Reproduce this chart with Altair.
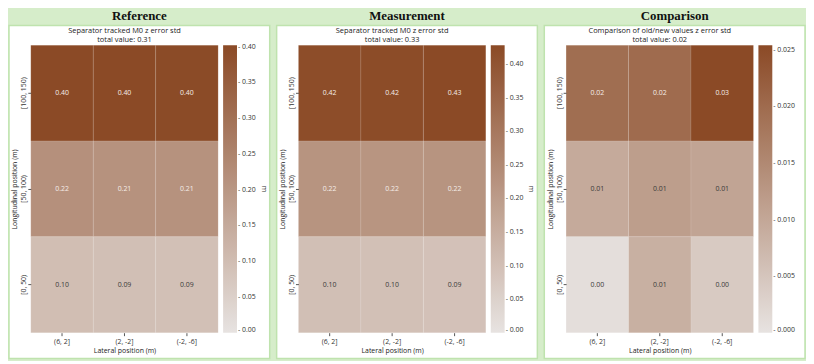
import altair as alt
import pandas as pd

# ---------------- data ----------------
lateral = ["(6, 2]", "(2, -2]", "(-2, -6]"]
longitudinal = ["[100, 150)", "[50, 100)", "[0, 50)"]

ref_values = [[0.402, 0.401, 0.400],
              [0.218, 0.212, 0.213],
              [0.098, 0.094, 0.092]]
meas_values = [[0.421, 0.423, 0.428],
               [0.221, 0.219, 0.222],
               [0.101, 0.098, 0.094]]
cmp_values = [[0.0195, 0.0200, 0.0254],
              [0.0095, 0.0115, 0.0105],
              [0.0008, 0.0085, 0.0042]]

headers = ["Reference", "Measurement", "Comparison"]
plot_titles = ["Separator tracked M0 z error std",
               "Separator tracked M0 z error  std",
               "Comparison of old/new values z error std"]
total_values = ["0.31", "0.33", "0.02"]
legend_titles = ["m", "m", None]
legend_ticks = [[0.0, 0.05, 0.10, 0.15, 0.20, 0.25, 0.30, 0.35, 0.40],
                [0.0, 0.05, 0.10, 0.15, 0.20, 0.25, 0.30, 0.35, 0.40],
                [0.0, 0.005, 0.010, 0.015, 0.020, 0.025]]
legend_formats = [".2f", ".2f", ".3f"]

# ---------------- style ----------------
GREEN = "#d6edca"
BORDER = "#bfe3ae"
LOW = "#e7e3e1"
HIGH = "#8b4a26"
FONT = "Open Sans"
W = 189
H = 290


def panel(values, header, title, total, legend_title, ticks, fmt):
    rows = []
    for i, lon in enumerate(longitudinal):
        for j, lat in enumerate(lateral):
            rows.append({"lat": lat, "lon": lon, "value": values[i][j]})
    df = pd.DataFrame(rows)
    vmax = max(max(r) for r in values)

    x_enc = alt.X("lat:N", sort=lateral,
                  axis=alt.Axis(title="Lateral position (m)", labelAngle=0,
                                labelFontSize=7, titleFontSize=7,
                                titleFontWeight="normal", tickSize=3,
                                labelPadding=2, titlePadding=2, domain=False,
                                tickColor="#555", labelColor="#333",
                                titleColor="#222", zindex=1, labelFont=FONT,
                                titleFont=FONT))
    y_enc = alt.Y("lon:N", sort=longitudinal,
                  axis=alt.Axis(title="Longitudinal position (m)",
                                labelAngle=270, labelFontSize=7,
                                titleFontSize=7, titleFontWeight="normal",
                                tickSize=3, labelPadding=1, titlePadding=2,
                                domain=False, tickColor="#555",
                                labelColor="#333", titleColor="#222",
                                zindex=1, labelFont=FONT, titleFont=FONT))

    legend_kwargs = dict(orient="right", direction="vertical",
                         gradientLength=H, gradientThickness=14, offset=5,
                         labelFontSize=7, labelColor="#333", labelOffset=1,
                         labelFont=FONT, values=ticks, format=fmt,
                         labelExpr="'- ' + datum.label", labelOverlap=False,
                         gradientStrokeWidth=0, titleOrient="right",
                         titleFontSize=7.5, titleFontWeight="normal",
                         titleColor="#333",
                         titlePadding=4, titleAnchor="middle", titleFont=FONT,
                         title=legend_title)

    color = alt.Color("value:Q",
                      scale=alt.Scale(domain=[0, vmax], range=[LOW, HIGH],
                                      interpolate="rgb"),
                      legend=alt.Legend(**legend_kwargs))

    bg = alt.Chart(alt.Data(values=[{}])).mark_rect(
        fill="white", stroke=BORDER, strokeWidth=1.5
    ).encode(x=alt.value(-22), x2=alt.value(W + 52),
             y=alt.value(-20), y2=alt.value(H + 26))

    heat = alt.Chart(df).mark_rect(
        stroke="white", strokeWidth=0.6, strokeOpacity=0.18
    ).encode(x=x_enc, y=y_enc, color=color)

    labels = alt.Chart(df).mark_text(fontSize=7, font=FONT).encode(
        x=x_enc, y=y_enc,
        text=alt.Text("value:Q", format=".2f"),
        color=alt.condition(f"datum.value > {vmax * 0.5}",
                            alt.value("#f5ede8"), alt.value("#3a3a3a")))

    sub = alt.Chart(alt.Data(values=[{}])).mark_text(
        fontSize=7.5, lineHeight=8.5, baseline="top", align="center",
        font=FONT, color="#222"
    ).encode(x=alt.value(W / 2), y=alt.value(-18),
             text=alt.value([title, f"total value: {total}"]))

    return alt.layer(bg, heat, labels, sub).properties(
        width=W, height=H,
        title=alt.TitleParams(header, font="Liberation Serif", fontSize=13,
                              fontWeight="bold", anchor="middle",
                              frame="bounds", offset=2, color="#111"))


panels = [panel(v, h, t, tv, lt, tk, f) for v, h, t, tv, lt, tk, f in zip(
    [ref_values, meas_values, cmp_values], headers, plot_titles,
    total_values, legend_titles, legend_ticks, legend_formats)]

chart = alt.hconcat(*panels, spacing=5).resolve_scale(
    color="independent", x="independent", y="independent"
).resolve_legend(color="independent").configure(
    background=GREEN, padding={"left": 0, "top": 0, "right": 0, "bottom": 0}
).configure_view(stroke=None)

chart.save("out.html", embed_options={"renderer": "svg", "actions": False})
